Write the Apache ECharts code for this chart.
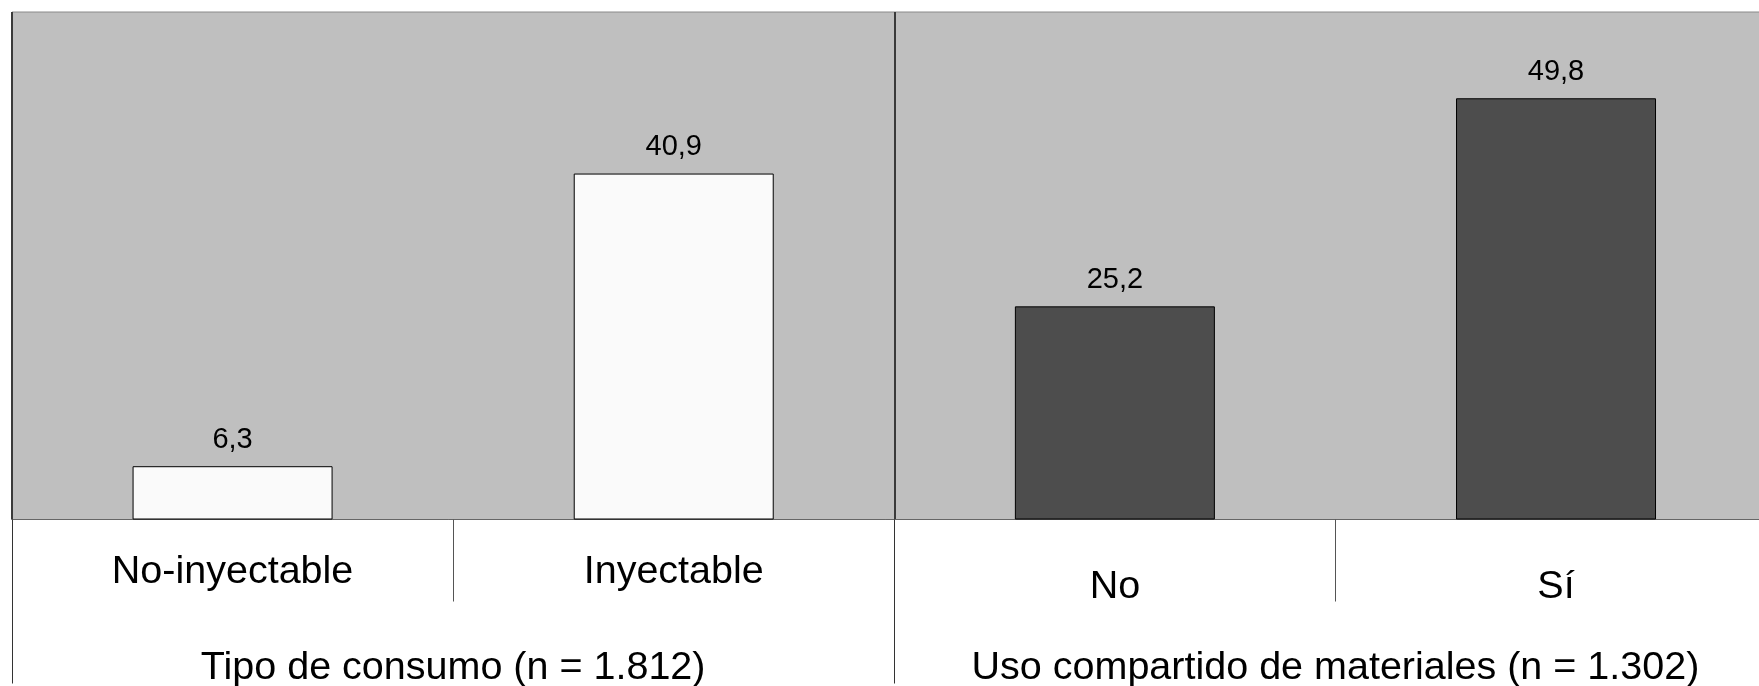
<!DOCTYPE html>
<html>
<head>
<meta charset="utf-8">
<script src="https://cdn.jsdelivr.net/npm/echarts@6/dist/echarts.min.js"></script>
<style>
html,body{margin:0;padding:0;background:#fff;overflow:hidden;}
#chart{width:1759px;height:686px;}
</style>
</head>
<body>
<div id="chart"></div>
<script>
// Data
var categories = ['No-inyectable', 'Inyectable', 'No', 'Sí'];
var values = [6.3, 40.9, 25.2, 49.8];
var panelTitles = ['Tipo de consumo (n = 1.812)', 'Uso compartido de materiales (n = 1.302)'];
var panelOfCategory = [0, 0, 1, 1];

var FONT = 'Liberation Sans, Arial, Helvetica, sans-serif';
var barColors = ['#FAFAFA', '#4D4D4D'];

var chart = echarts.init(document.getElementById('chart'), null, {renderer: 'canvas'});

var catData = categories.map(function (c, i) {
  var item = {value: c};
  if (panelOfCategory[i] === 1) {
    item.textStyle = {padding: [15, 0, 0, 0]};
  }
  return item;
});

var barData = values.map(function (v, i) {
  return {
    value: v,
    itemStyle: {color: barColors[panelOfCategory[i]]}
  };
});

var option = {
  animation: false,
  backgroundColor: '#ffffff',
  grid: {
    left: 12,
    top: 12,
    width: 1764.6,
    height: 507.5,
    outerBoundsMode: 'none',
    containLabel: false,
    show: true,
    backgroundColor: '#BFBFBF',
    borderColor: '#8a8a8a',
    borderWidth: 1
  },
  xAxis: [
    {
      type: 'category',
      data: catData,
      position: 'bottom',
      boundaryGap: true,
      axisLine: {show: true, lineStyle: {color: '#666666', width: 1}},
      axisTick: {show: true, length: 82, lineStyle: {color: '#555555', width: 1}},
      splitLine: {show: false},
      axisLabel: {
        show: true,
        interval: 0,
        margin: 33,
        color: '#000000',
        fontFamily: FONT,
        fontSize: 39.5
      }
    },
    {
      type: 'category',
      data: panelTitles,
      position: 'bottom',
      boundaryGap: true,
      axisLine: {show: false},
      axisTick: {show: true, length: 164, lineStyle: {color: '#333333', width: 1}},
      splitLine: {
        show: true,
        lineStyle: {color: '#3a3a3a', width: 2}
      },
      axisLabel: {
        show: true,
        interval: 0,
        margin: 129,
        color: '#000000',
        fontFamily: FONT,
        fontSize: 39.5
      }
    }
  ],
  yAxis: {
    type: 'value',
    min: 0,
    max: 60,
    show: false,
    splitLine: {show: false}
  },
  series: [
    {
      type: 'bar',
      xAxisIndex: 0,
      barWidth: 200,
      data: barData,
      itemStyle: {borderColor: '#000000', borderWidth: 1},
      label: {
        show: true,
        position: 'top',
        distance: 12,
        color: '#000000',
        fontFamily: FONT,
        fontSize: 29,
        formatter: function (p) { return String(p.value).replace('.', ','); }
      }
    }
  ]
};
chart.setOption(option);
</script>
</body>
</html>
